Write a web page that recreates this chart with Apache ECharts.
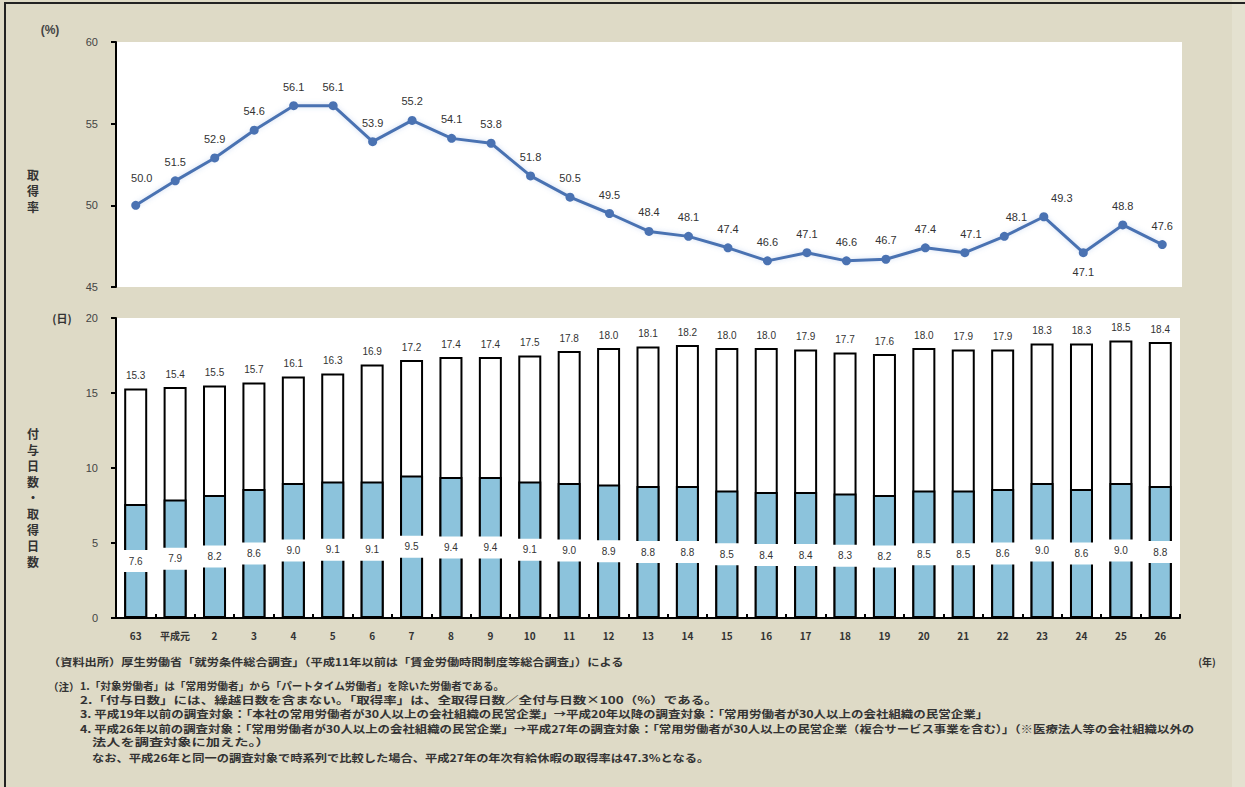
<!DOCTYPE html>
<html>
<head>
<meta charset="utf-8">
<script src="https://cdn.jsdelivr.net/npm/echarts@6/dist/echarts.min.js"></script>
<style>
  html, body { margin: 0; padding: 0; background: #dedac6; }
  #chart { width: 1245px; height: 787px; }
</style>
</head>
<body>
<div id="chart"></div>
<script>
// 年（昭和63年〜平成26年）
const years = ['63', '平成元', '2', '3', '4', '5', '6', '7', '8', '9', '10', '11', '12', '13',
  '14', '15', '16', '17', '18', '19', '20', '21', '22', '23', '24', '25', '26'];

// 取得率（%）
const acquisitionRate = [50.0, 51.5, 52.9, 54.6, 56.1, 56.1, 53.9, 55.2, 54.1, 53.8, 51.8, 50.5, 49.5,
  48.4, 48.1, 47.4, 46.6, 47.1, 46.6, 46.7, 47.4, 47.1, 48.1, 49.3, 47.1, 48.8, 47.6];

// 付与日数（日）
const grantedDays = [15.3, 15.4, 15.5, 15.7, 16.1, 16.3, 16.9, 17.2, 17.4, 17.4, 17.5, 17.8, 18.0,
  18.1, 18.2, 18.0, 18.0, 17.9, 17.7, 17.6, 18.0, 17.9, 17.9, 18.3, 18.3, 18.5, 18.4];

// 取得日数（日）
const takenDays = [7.6, 7.9, 8.2, 8.6, 9.0, 9.1, 9.1, 9.5, 9.4, 9.4, 9.1, 9.0, 8.9,
  8.8, 8.8, 8.5, 8.4, 8.4, 8.3, 8.2, 8.5, 8.5, 8.6, 9.0, 8.6, 9.0, 8.8];

// 目盛り
const rateTicks = [45, 50, 55, 60];
const dayTicks = [0, 5, 10, 15, 20];

// 出所・注記
const sourceNote = '（資料出所）厚生労働省「就労条件総合調査」（平成11年以前は「賃金労働時間制度等総合調査」）による';
const noteHead = '（注）';
const noteLines = [
  '1.「対象労働者」は「常用労働者」から「パートタイム労働者」を除いた労働者である。',
  '2.「付与日数」には、繰越日数を含まない。「取得率」は、全取得日数／全付与日数×100（%）である。',
  '3. 平成19年以前の調査対象：「本社の常用労働者が30人以上の会社組織の民営企業」→平成20年以降の調査対象：「常用労働者が30人以上の会社組織の民営企業」',
  '4. 平成26年以前の調査対象：「常用労働者が30人以上の会社組織の民営企業」→平成27年の調査対象：「常用労働者が30人以上の民営企業（複合サービス事業を含む）」（※医療法人等の会社組織以外の',
  '法人を調査対象に加えた。）',
  'なお、平成26年と同一の調査対象で時系列で比較した場合、平成27年の年次有給休暇の取得率は47.3%となる。'
];

const FONT = '"Liberation Sans", "Noto Sans CJK JP", sans-serif';
const JP_FONT = '"Noto Sans CJK JP", sans-serif';
const TEXT = '#333';
const LINE_BLUE = '#4a72b2';
const BAR_BLUE = '#8cc3dc';

// 個別のラベル位置調整（重なり回避）
const rateLabelShift = { 0: [6, -8], 21: [6, 0], 22: [12, 0], 23: [18, 0] };
const rateLabelBelow = { 24: true };

const rateData = acquisitionRate.map((v, i) => {
  const item = { value: v };
  if (rateLabelBelow[i]) item.label = { position: 'bottom' };
  else if (rateLabelShift[i]) item.label = { offset: rateLabelShift[i] };
  return item;
});

const chart = echarts.init(document.getElementById('chart'), null, { renderer: 'svg' });

const fmt1 = p => Number(p.value).toFixed(1);
const verticalText = s => s.split('').join('\n');

// 注記行を所定の幅に収めるための横方向の伸縮率
const measureCtx = document.createElement('canvas').getContext('2d');
const NOTE_FONT = 'bold 10.5px ' + JP_FONT;
function stretchTo(text, font, x0, x1) {
  measureCtx.font = font;
  const w = measureCtx.measureText(text).width;
  return w > 0 ? (x1 - x0) / w : 1;
}

const graphic = [
  // 外枠
  { type: 'rect', shape: { x: 1232, y: 0, width: 13, height: 787 }, style: { fill: '#e4e1d0' }, silent: true },
  { type: 'line', shape: { x1: 4, y1: 3, x2: 1245, y2: 3 }, style: { stroke: '#222', lineWidth: 2 }, silent: true },
  { type: 'line', shape: { x1: 5, y1: 3, x2: 5, y2: 787 }, style: { stroke: '#222', lineWidth: 2 }, silent: true },
  // 単位
  { type: 'text', x: 50, y: 30, style: { text: '(%)', font: 'bold 12px ' + FONT, fill: '#444', align: 'center', verticalAlign: 'middle' } },
  { type: 'text', x: 62, y: 318, style: { text: '(日)', font: 'bold 11px ' + JP_FONT, fill: TEXT, align: 'center', verticalAlign: 'middle' } },
  { type: 'text', x: 1207, y: 661, style: { text: '(年)', font: 'bold 10px ' + JP_FONT, fill: TEXT, align: 'center', verticalAlign: 'middle' } },
  // 軸名（縦書き）
  { type: 'text', x: 33, y: 190, style: { text: verticalText('取得率'), font: 'bold 12px ' + JP_FONT, lineHeight: 16, fill: TEXT, align: 'center', verticalAlign: 'middle' } },
  { type: 'text', x: 33, y: 497, style: { text: verticalText('付与日数・取得日数'), font: 'bold 12px ' + JP_FONT, lineHeight: 16, fill: TEXT, align: 'center', verticalAlign: 'middle' } },
  // 出所
  { type: 'text', x: 48, y: 661, scaleX: stretchTo(sourceNote, NOTE_FONT, 48, 625),
    style: { text: sourceNote, font: NOTE_FONT, fill: TEXT, verticalAlign: 'middle' } },
  { type: 'text', x: 48, y: 686, style: { text: noteHead, font: NOTE_FONT, fill: TEXT, verticalAlign: 'middle' } }
];

// 注記各行の配置（開始位置・終了位置・縦位置）
const noteLayout = [
  { x: 80, end: 505, y: 686 },
  { x: 80, end: 718, y: 699 },
  { x: 80, end: 990, y: 713 },
  { x: 80, end: 1195, y: 728 },
  { x: 92, end: 270, y: 741 },
  { x: 92, end: 710, y: 757 }
];
noteLines.forEach((t, i) => {
  const L = noteLayout[i];
  graphic.push({
    type: 'text', x: L.x, y: L.y, scaleX: stretchTo(t, NOTE_FONT, L.x, L.end),
    style: { text: t, font: NOTE_FONT, fill: TEXT, verticalAlign: 'middle' }
  });
});

const option = {
  backgroundColor: '#dedac6',
  animation: false,
  textStyle: { fontFamily: FONT },
  grid: [
    { left: 116, top: 42, width: 1066, height: 245, show: true, backgroundColor: '#fff', borderWidth: 0 },
    { left: 116, top: 318, width: 1064, height: 300, show: true, backgroundColor: '#fff', borderWidth: 0 }
  ],
  xAxis: [
    { type: 'category', gridIndex: 0, data: years, show: false },
    {
      type: 'category', gridIndex: 1, data: years,
      axisLine: { show: true, lineStyle: { color: '#000', width: 2 } },
      axisTick: { show: true, inside: true, length: 4, lineStyle: { color: '#000', width: 2 } },
      axisLabel: { color: TEXT, fontSize: 10, fontWeight: 'bold', margin: 12, fontFamily: JP_FONT }
    }
  ],
  yAxis: [
    {
      type: 'value', gridIndex: 0,
      min: rateTicks[0], max: rateTicks[rateTicks.length - 1], interval: rateTicks[1] - rateTicks[0],
      axisLine: { show: true, lineStyle: { color: '#000', width: 2 } },
      axisTick: { show: true, length: 5, lineStyle: { color: '#000', width: 2 } },
      axisLabel: { color: '#444', fontSize: 11, margin: 18 },
      splitLine: { show: false }
    },
    {
      type: 'value', gridIndex: 1,
      min: dayTicks[0], max: dayTicks[dayTicks.length - 1], interval: dayTicks[1] - dayTicks[0],
      axisLine: { show: true, lineStyle: { color: '#000', width: 2 } },
      axisTick: { show: true, length: 5, lineStyle: { color: '#000', width: 2 } },
      axisLabel: { color: '#444', fontSize: 11, margin: 18 },
      splitLine: { show: false }
    }
  ],
  series: [
    {
      name: '取得率', type: 'line', xAxisIndex: 0, yAxisIndex: 0,
      data: rateData,
      symbol: 'circle', symbolSize: 9,
      lineStyle: { color: LINE_BLUE, width: 3, shadowColor: 'rgba(110,150,215,0.35)', shadowBlur: 5 },
      itemStyle: { color: LINE_BLUE },
      label: { show: true, position: 'top', distance: 9, color: TEXT, fontSize: 11, formatter: fmt1 },
      z: 3
    },
    {
      name: '付与日数', type: 'bar', xAxisIndex: 1, yAxisIndex: 1,
      data: grantedDays, barWidth: 23,
      itemStyle: { color: '#fff', borderColor: '#000', borderWidth: 2 },
      label: { show: true, position: 'top', distance: 8, color: TEXT, fontSize: 10, formatter: fmt1 }
    },
    {
      name: '取得日数', type: 'bar', xAxisIndex: 1, yAxisIndex: 1,
      data: takenDays, barWidth: 23, barGap: '-100%',
      itemStyle: { color: BAR_BLUE, borderColor: '#000', borderWidth: 2 },
      label: {
        show: true, position: 'inside', color: TEXT, fontSize: 10, formatter: fmt1,
        backgroundColor: '#fff', width: 30, align: 'center', padding: [6, 0, 6, 0]
      }
    }
  ],
  graphic: graphic
};

chart.setOption(option);
</script>
</body>
</html>
